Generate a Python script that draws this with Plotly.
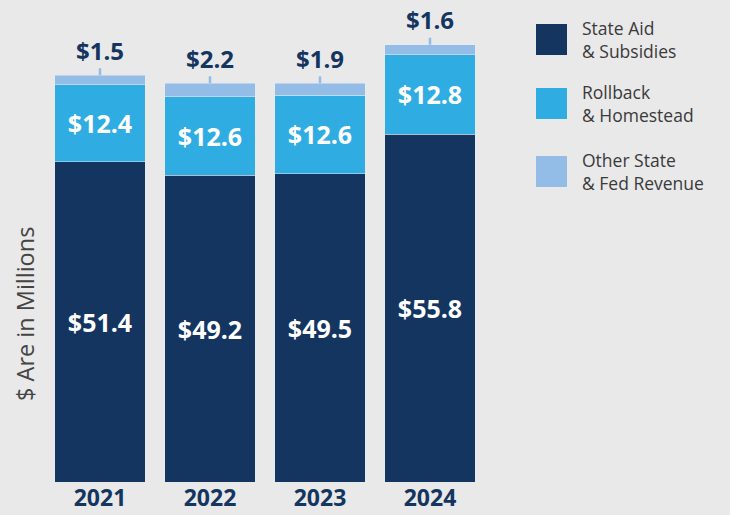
import plotly.graph_objects as go

years = ["2021", "2022", "2023", "2024"]
state_aid = [51.4, 49.2, 49.5, 55.8]
rollback = [12.4, 12.6, 12.6, 12.8]
other = [1.5, 2.2, 1.9, 1.6]
series_names = ["State Aid<br>& Subsidies", "Rollback<br>& Homestead",
                "Other State<br>& Fed Revenue"]

DARK = "#14355f"
MID = "#2fade3"
LIGHT = "#93bde6"
BG = "#e9e9e9"
FONT = "Open Sans"

L, T, B = 45, 20, 33
PW, PH = 440, 515 - T - B


def px(xp):
    return (xp - L) / PW


def py(yp):
    return (515 - B - yp) / PH


fig = go.Figure()
fig.add_trace(go.Bar(x=years, y=state_aid, marker_color=DARK, name="State Aid",
                     text=[f"${v}" for v in state_aid], textposition="inside",
                     insidetextanchor="middle",
                     textfont=dict(family=FONT, size=25, color="white", weight="bold")))
fig.add_trace(go.Bar(x=years, y=rollback, marker_color=MID, name="Rollback",
                     text=[f"${v}" for v in rollback], textposition="inside",
                     insidetextanchor="middle",
                     textfont=dict(family=FONT, size=25, color="white", weight="bold")))
fig.add_trace(go.Bar(x=years, y=other, marker_color=LIGHT, name="Other",
                     textposition="none"))

totals = [a + b + c for a, b, c in zip(state_aid, rollback, other)]
annotations = []
for i, (tot, o) in enumerate(zip(totals, other)):
    annotations.append(dict(x=i, y=tot, xref="x", yref="y", text=f"${o}",
                            showarrow=True, arrowhead=0, arrowwidth=2.5,
                            arrowcolor=LIGHT, ax=0, ay=-25, standoff=0,
                            font=dict(family=FONT, size=24, color=DARK, weight="bold")))

annotations.append(dict(x=px(25), y=py(314), xref="paper", yref="paper",
                        text="$ Are in Millions", showarrow=False, textangle=-90,
                        xanchor="center", yanchor="middle",
                        font=dict(family=FONT, size=23.5, color="#444444")))

colors = [DARK, MID, LIGHT]
shapes = []
tops = [24, 88, 156]
for name, col, top in zip(series_names, colors, tops):
    shapes.append(dict(type="rect", xref="paper", yref="paper",
                       x0=px(536), x1=px(567), y0=py(top + 31), y1=py(top),
                       fillcolor=col, line=dict(width=0)))
    annotations.append(dict(x=px(581), y=py(top + 16), xref="paper", yref="paper",
                            text=name, showarrow=False, borderpad=0,
                            xanchor="left", yanchor="middle", align="left",
                            font=dict(family=FONT, size=17.5, color="#3a3a3a")))

fig.update_layout(
    width=730, height=515,
    barmode="stack", bargap=0.18,
    paper_bgcolor=BG, plot_bgcolor=BG,
    margin=dict(l=L, r=730 - L - PW, t=T, b=B),
    showlegend=False,
    xaxis=dict(type="category", range=[-0.5, 3.5], showgrid=False, showline=False,
               automargin=False, ticks="",
               tickfont=dict(family=FONT, size=23, color=DARK, weight="bold")),
    yaxis=dict(range=[0, PH / 6.23], showgrid=False, showticklabels=False,
               zeroline=False, showline=False, automargin=False),
    annotations=annotations, shapes=shapes,
)

fig.write_html("out.html", config={"displayModeBar": False},
               post_script="document.body.style.margin='0';document.body.style.background='#e9e9e9';")
